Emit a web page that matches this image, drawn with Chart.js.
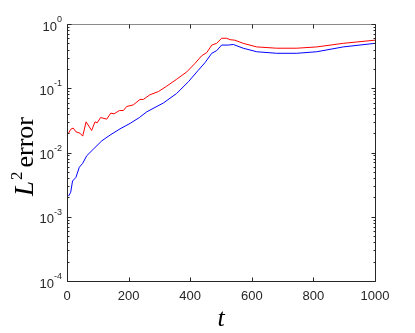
<!DOCTYPE html>
<html>
<head>
<meta charset="utf-8">
<script src="https://cdn.jsdelivr.net/npm/chart.js@4/dist/chart.umd.min.js"></script>
<style>
html,body{margin:0;padding:0;background:#fff;}
#wrap{width:415px;height:333px;position:relative;}
</style>
</head>
<body>
<div id="wrap"><canvas id="c"></canvas></div>
<script>
const redT = [5,12,20,29,42,51,62,80,91,98,109,129,142,153,170,183,194,215,237,248,269,297,324,356,389,416,437,454,470,486,502,518,530,545,572,616,681,746,811,897,1000];
const redValues = [0.020,0.023,0.024,0.021,0.020,0.018,0.030,0.022,0.030,0.029,0.035,0.033,0.041,0.040,0.045,0.045,0.052,0.055,0.067,0.067,0.079,0.089,0.108,0.138,0.18,0.245,0.32,0.36,0.47,0.50,0.60,0.60,0.57,0.56,0.50,0.44,0.42,0.42,0.44,0.50,0.56];
const blueT = [5,12,18,29,40,51,64,85,113,140,172,205,235,259,313,356,394,426,448,470,486,502,524,540,572,616,681,746,811,897,1000];
const blueValues = [0.0021,0.0024,0.0036,0.0041,0.0059,0.0068,0.0089,0.0112,0.0152,0.0187,0.0233,0.0284,0.035,0.043,0.059,0.083,0.126,0.19,0.25,0.35,0.385,0.47,0.47,0.48,0.42,0.37,0.35,0.35,0.37,0.44,0.50];
const xTicks = [0,200,400,600,800,1000];
const yExponents = [0,-1,-2,-3,-4];

const axisColor = '#262626';

const framePlugin = {
  id: 'frame',
  afterDraw(chart) {
    const ctx = chart.ctx;
    const a = chart.chartArea;
    const xs = chart.scales.x, ys = chart.scales.y;
    const L = Math.round(a.left)+0.5, R = Math.round(a.right)+0.5, T = Math.round(a.top)+0.5, B = Math.round(a.bottom)+0.5;
    ctx.save();
    ctx.lineWidth = 1;
    ctx.strokeStyle = '#8a8a8a';
    ctx.beginPath(); ctx.moveTo(L, T); ctx.lineTo(R, T); ctx.stroke();
    ctx.strokeStyle = axisColor;
    ctx.beginPath();
    ctx.moveTo(L, T); ctx.lineTo(L, B); ctx.lineTo(R, B); ctx.lineTo(R, T);
    ctx.stroke();
    // x ticks
    ctx.beginPath();
    xTicks.forEach(v => {
      const px = Math.round(xs.getPixelForValue(v))+0.5;
      ctx.moveTo(px, B); ctx.lineTo(px, B-4);
      ctx.moveTo(px, T); ctx.lineTo(px, T+4);
    });
    // y ticks
    for (let e = -4; e <= 0; e++) {
      const py = Math.round(ys.getPixelForValue(Math.pow(10,e)))+0.5;
      ctx.moveTo(L, py); ctx.lineTo(L+4, py);
      ctx.moveTo(R, py); ctx.lineTo(R-4, py);
      if (e < 0) {
        for (let m = 2; m <= 9; m++) {
          const pm = Math.round(ys.getPixelForValue(m*Math.pow(10,e)))+0.5;
          ctx.moveTo(L, pm); ctx.lineTo(L+2, pm);
          ctx.moveTo(R, pm); ctx.lineTo(R-2, pm);
        }
      }
    }
    ctx.stroke();
    // x labels
    ctx.fillStyle = axisColor;
    ctx.font = '13px "Liberation Sans", Arial, sans-serif';
    ctx.textAlign = 'center';
    ctx.textBaseline = 'top';
    xTicks.forEach(v => {
      ctx.fillText(String(v), xs.getPixelForValue(v), a.bottom + 9);
    });
    // y labels 10^e
    yExponents.forEach(e => {
      const py = ys.getPixelForValue(Math.pow(10,e));
      ctx.font = '9px "Liberation Sans", Arial, sans-serif';
      ctx.textAlign = 'right';
      ctx.textBaseline = 'alphabetic';
      const expStr = String(e);
      const ew = ctx.measureText(expStr).width;
      const right = a.left - 5;
      ctx.fillText(expStr, right, py - 2);
      ctx.font = '13px "Liberation Sans", Arial, sans-serif';
      ctx.textBaseline = 'middle';
      ctx.fillText('10', right - ew, py + 3);
    });
    // x title
    ctx.fillStyle = '#000';
    ctx.font = 'italic 26px "Liberation Serif", serif';
    ctx.textAlign = 'center';
    ctx.textBaseline = 'alphabetic';
    ctx.fillText('t', (a.left + a.right)/2, 326);
    // y title
    ctx.save();
    ctx.translate(33, (a.top + a.bottom)/2 + 4);
    ctx.rotate(-Math.PI/2);
    ctx.textBaseline = 'alphabetic';
    ctx.textAlign = 'left';
    ctx.font = 'italic 27px "Liberation Serif", serif';
    const wL = ctx.measureText('L').width;
    ctx.font = '17px "Liberation Serif", serif';
    const w2 = ctx.measureText('2').width;
    ctx.font = '26px "Liberation Serif", serif';
    const wE = ctx.measureText('error').width;
    const total = wL + 1 + w2 + 4 + wE;
    let x0 = -total/2;
    ctx.font = 'italic 27px "Liberation Serif", serif';
    ctx.fillText('L', x0, 0);
    x0 += wL + 1;
    ctx.font = '17px "Liberation Serif", serif';
    ctx.fillText('2', x0, -11);
    x0 += w2 + 4;
    ctx.font = '26px "Liberation Serif", serif';
    ctx.fillText('error', x0, 0);
    ctx.restore();
    ctx.restore();
  }
};

new Chart(document.getElementById('c'), {
  type: 'line',
  data: {
    datasets: [
      { label: 'red', data: redT.map((t,i)=>({x:t,y:redValues[i]})), borderColor: '#ff0000', borderWidth: 1, pointRadius: 0, tension: 0, fill: false },
      { label: 'blue', data: blueT.map((t,i)=>({x:t,y:blueValues[i]})), borderColor: '#0000ff', borderWidth: 1, pointRadius: 0, tension: 0, fill: false }
    ]
  },
  options: {
    responsive: true,
    maintainAspectRatio: false,
    animation: false,
    layout: { padding: { left: 67, right: 40, top: 24, bottom: 52 } },
    plugins: { legend: { display: false }, tooltip: { enabled: false } },
    scales: {
      x: { type: 'linear', min: 0, max: 1000, display: false },
      y: { type: 'logarithmic', min: 1e-4, max: 1, display: false }
    }
  },
  plugins: [framePlugin]
});
</script>
</body>
</html>
